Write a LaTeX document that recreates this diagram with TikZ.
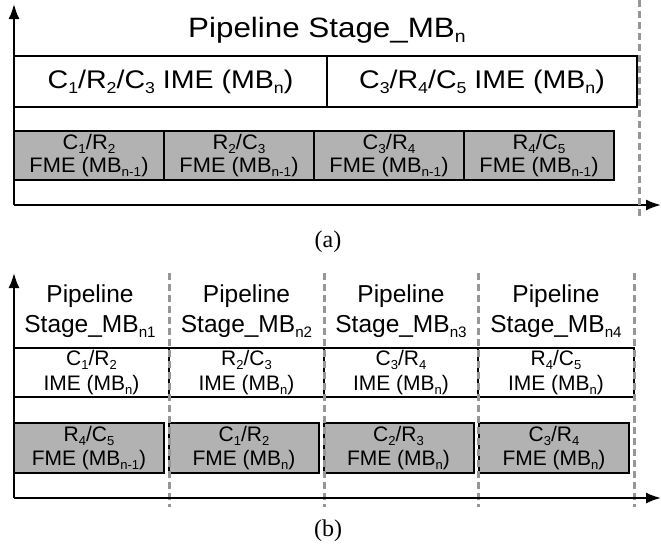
\documentclass[tikz,border=0pt]{standalone}
\usepackage{fontspec}
\setmainfont{Liberation Sans}
\newfontfamily\capfont{Liberation Serif}
\usetikzlibrary{arrows.meta}
\definecolor{fmegray}{RGB}{178,178,178}
\definecolor{dashgray}{RGB}{150,150,150}
\newcommand{\sbs}[1]{\raisebox{-0.2em}{\scalebox{0.62}{#1}}}
\newcommand{\hwide}[1]{\scalebox{1.12}[1]{#1}}
\newcommand{\hslight}[1]{\scalebox{1.04}[1]{#1}}
\tikzset{
  axis/.style={line width=2pt,-{Latex[length=15pt,width=11pt]}},
  sep/.style={dashgray,line width=3pt,dash pattern=on 7pt off 4pt},
  imebox/.style={draw=black,line width=2pt,fill=white,inner sep=0pt,align=center},
  fmebox/.style={draw=black,line width=2pt,fill=fmegray,inner sep=0pt,align=center},
  ttl/.style={inner sep=0pt,align=center},
  sublabel/.style={inner sep=0pt,font=\capfont\fontsize{24}{28}\selectfont}
}
\begin{document}
\begin{tikzpicture}[x=1pt,y=-1pt]
\useasboundingbox (0,0) rectangle (661,549);
% ---------- panel (a)
\coordinate (ao) at (14,205);
\coordinate (ay) at (14,4);
\coordinate (ax) at (661,205);
\coordinate (ad1) at (639,0);
\coordinate (ad2) at (639,217);
\node[ttl,font=\fontsize{28}{30}\selectfont] (atitle) at (327,30) {\hwide{Pipeline Stage\_MB\sbs{n}}};
\node[imebox,minimum width=313pt,minimum height=51pt,font=\fontsize{25.5}{28}\selectfont] (aime1) at (170.5,81.5) {\hwide{C\sbs{1}/R\sbs{2}/C\sbs{3} IME (MB\sbs{n})}};
\node[imebox,minimum width=310pt,minimum height=51pt,font=\fontsize{25.5}{28}\selectfont] (aime2) at (482,81.5) {\hwide{C\sbs{3}/R\sbs{4}/C\sbs{5} IME (MB\sbs{n})}};
\foreach \i/\cx/\t in {1/89/{C\sbs{1}/R\sbs{2}},2/239/{R\sbs{2}/C\sbs{3}},3/389/{C\sbs{3}/R\sbs{4}},4/539/{R\sbs{4}/C\sbs{5}}}{
  \node[fmebox,minimum width=150pt,minimum height=49pt,font=\fontsize{21}{23.5}\selectfont] (afme\i) at (\cx,155.5) {\hslight{\t}\\\hslight{FME (MB\sbs{n-1})}};
}
\draw[axis] (ao) -- (ay);
\draw[axis] (ao) -- (ax);
\draw[sep] (ad1) -- (ad2);
\node[sublabel] (alabel) at (328,242) {(a)};
% ---------- panel (b)
\coordinate (bo) at (14,498);
\coordinate (by) at (14,273);
\coordinate (bx) at (661,498);
\foreach \i/\cx in {1/90,2/246.5,3/401,4/556}{
  \node[ttl,font=\fontsize{24.5}{30}\selectfont] (btitle\i) at (\cx,311) {Pipeline\\Stage\_MB\sbs{n\i}};
}
\foreach \i/\cx/\w/\t in {1/91.5/155/{C\sbs{1}/R\sbs{2}},2/246.5/155/{R\sbs{2}/C\sbs{3}},3/401/154/{C\sbs{3}/R\sbs{4}},4/556/156/{R\sbs{4}/C\sbs{5}}}{
  \node[imebox,minimum width=\w pt,minimum height=49pt,font=\fontsize{21}{24.5}\selectfont] (bime\i) at (\cx,372.5) {\t\\IME (MB\sbs{n})};
}
\foreach \i/\cx/\t/\s in {1/89/{R\sbs{4}/C\sbs{5}}/{n-1},2/244/{C\sbs{1}/R\sbs{2}}/n,3/398.5/{C\sbs{2}/R\sbs{3}}/n,4/554/{C\sbs{3}/R\sbs{4}}/n}{
  \node[fmebox,minimum width=150pt,minimum height=50pt,font=\fontsize{21}{24.5}\selectfont] (bfme\i) at (\cx,448) {\t\\FME (MB\sbs{\s})};
}
\foreach \i/\x in {1/169,2/324,3/478,4/634}{
  \coordinate (bd\i t) at (\x,273);
  \coordinate (bd\i b) at (\x,507);
  \draw[sep] (bd\i t) -- (bd\i b);
}
\draw[axis] (bo) -- (by);
\draw[axis] (bo) -- (bx);
\node[sublabel] (blabel) at (328,531) {(b)};
\end{tikzpicture}
\end{document}
